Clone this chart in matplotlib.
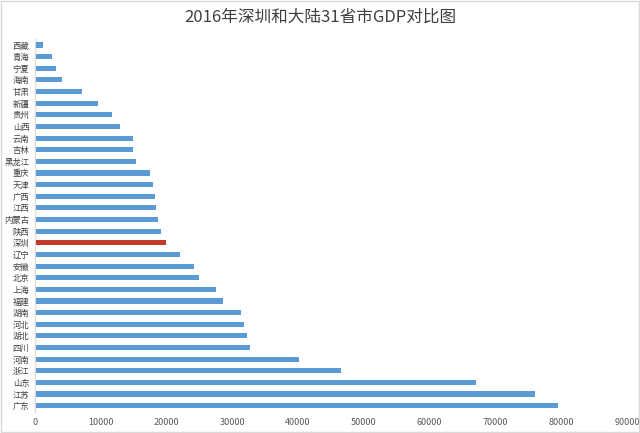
import matplotlib
matplotlib.use("Agg")
import matplotlib.pyplot as plt
from matplotlib.patches import Rectangle

plt.rcParams['font.family'] = ['Noto Sans CJK SC', 'DejaVu Sans']

regions = ['西藏', '青海', '宁夏', '海南', '甘肃', '新疆', '贵州', '山西', '云南', '吉林',
           '黑龙江', '重庆', '天津', '广西', '江西', '内蒙古', '陕西', '深圳', '辽宁', '安徽',
           '北京', '上海', '福建', '湖南', '河北', '湖北', '四川', '河南', '浙江', '山东',
           '江苏', '广东']
gdp = [1148, 2572, 3150, 4044, 7152, 9617, 11734, 12928, 14870, 14886,
       15386, 17559, 17885, 18245, 18364, 18633, 19166, 19900, 22038, 24118,
       24899, 27466, 28519, 31245, 31827, 32298, 32681, 40160, 46485, 67008,
       76086, 79512]
highlight = '深圳'
xticks = [0, 10000, 20000, 30000, 40000, 50000, 60000, 70000, 80000, 90000]
title = '2016年深圳和大陆31省市GDP对比图'

blue = '#5B9BD5'
red = '#C0392B'

fig = plt.figure(figsize=(6.4, 4.33), dpi=100)
ax = fig.add_axes([35/640, 1 - 411.5/433, (627-35)/640, (411.5-39.2)/433])

ypos = list(range(len(regions)))
colors = [red if r == highlight else blue for r in regions]
ax.barh(ypos, gdp, height=0.44, color=colors)
ax.set_ylim(len(regions) - 0.5, -0.5)
ax.set_xlim(0, 90000)
ax.set_yticks(ypos)
ax.set_yticklabels(regions, fontsize=6, color='#404040')
ax.tick_params(axis='y', length=0, pad=4)
ax.set_xticks(xticks)
ax.set_xticklabels([str(t) for t in xticks], fontsize=6.5, color='#595959')
ax.tick_params(axis='x', length=0, pad=5)
for s in ['top', 'right', 'bottom']:
    ax.spines[s].set_visible(False)
ax.spines['left'].set_color('#D9D9D9')
ax.spines['left'].set_linewidth(0.8)

fig.text(0.5, 1 - 17/433, title, ha='center', va='center', fontsize=12, color='#404040')

fig.patches.append(Rectangle((0.002, 0.002), 0.996, 0.996, transform=fig.transFigure,
                             fill=False, edgecolor='#D9D9D9', linewidth=1))

fig.savefig('out.png', dpi=100)
